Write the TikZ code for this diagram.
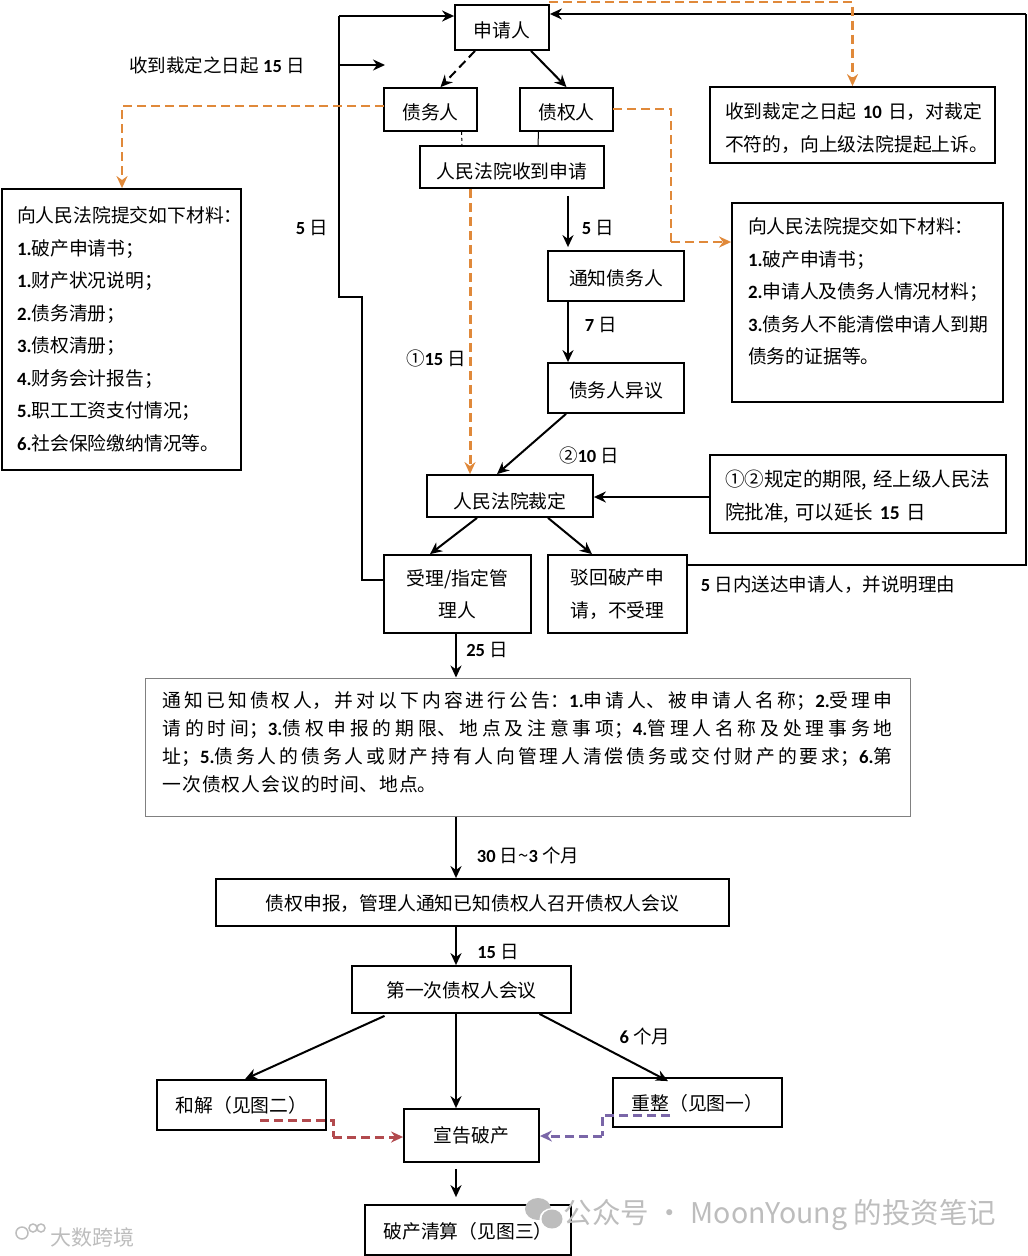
\documentclass[tikz,border=0pt]{standalone}
\usepackage{fontspec}
\usetikzlibrary{arrows.meta}
\setmainfont{Noto Sans CJK SC}
\newfontfamily\numfont{Carlito}
\newcommand{\nm}[1]{{\numfont\bfseries #1}}
\XeTeXlinebreaklocale "zh"
\XeTeXlinebreakskip=0pt plus 6pt
\definecolor{dashorange}{HTML}{E0893A}
\definecolor{dashred}{HTML}{B24A4E}
\definecolor{dashpurple}{HTML}{7A66A8}
\definecolor{markgray}{HTML}{BDBDBD}
\tikzset{
  box/.style={draw, line width=1.8pt, inner sep=0pt, align=left,
    font=\fontsize{18.8}{32.5}\selectfont, execute at begin node={\rule{0pt}{#1}}},
  box/.default=22pt,
  lab/.style={inner sep=0pt, font=\fontsize{18.5}{22}\selectfont},
  rule/.style={line width=2pt},
  flow/.style={line width=2pt, ->},
  ornline/.style={line width=2.2pt, color=dashorange, dash pattern=on 9pt off 5pt},
  wmark/.style={inner sep=0pt, text=markgray},
}
\begin{document}
\begin{tikzpicture}[>={Stealth[length=12pt,width=11pt]}, x=1pt, y=-1pt]
\useasboundingbox (0,0) rectangle (1028,1256);

\node[box, minimum width=94, minimum height=45] (sqr) at (502,27.5) {申请人};
\node[box, minimum width=93, minimum height=43] (zwr) at (430.5,109.5) {债务人};
\node[box, minimum width=93, minimum height=43] (zqr) at (566.5,109.5) {债权人};
\node[box=24pt, minimum width=184, minimum height=42] (shou) at (512,167) {人民法院收到申请};
\node[box=20pt, minimum width=136, minimum height=50] (tongzhi) at (616,276) {通知债务人};
\node[box=20pt, minimum width=136, minimum height=50] (yiyi) at (616,388) {债务人异议};
\node[box=27pt, minimum width=166, minimum height=42] (caiding) at (510,496) {人民法院裁定};
\node[box, align=center, minimum width=147, minimum height=78] (shouli) at (457.5,594) {受理/指定管\\理人};
\node[box, align=center, minimum width=139, minimum height=78] (bohui) at (617.5,594) {驳回破产申\\请，不受理};
\node[box, text width=255pt, minimum width=285, minimum height=76] (shangsu) at (852.5,125)
  {\mbox{收到裁定之日起 \nm{10} 日，对裁定}\\\mbox{不符的，向上级法院提起上诉。}};
\node[box=0pt, text width=209pt, minimum width=239, minimum height=281] (zwcl) at (121.5,329.5)
  {\mbox{向人民法院提交如下材料：}\\\nm{1.}破产申请书；\\\nm{1.}财产状况说明；\\\nm{2.}债务清册；\\\nm{3.}债权清册；\\\nm{4.}财务会计报告；\\\nm{5.}职工工资支付情况；\\\mbox{\nm{6.}社会保险缴纳情况等。}};
\node[box=0pt, text width=239pt, minimum width=271, minimum height=199] (zqcl) at (867.5,302.5)
  {\mbox{向人民法院提交如下材料：}\\\nm{1.}破产申请书；\\\mbox{\nm{2.}申请人及债务人情况材料；}\\\mbox{\nm{3.}债务人不能清偿申请人到期}\\债务的证据等。\rule[-23pt]{0pt}{1pt}};
\node[box, text width=266pt, minimum width=296, minimum height=78, font=\fontsize{19.5}{32.5}\selectfont] (yanchang) at (858,494)
  {\mbox{①②规定的期限, 经上级人民法}\\\mbox{院批准, 可以延长 \nm{15} 日}};
\node[draw=black!50, line width=1pt, inner xsep=17.5pt, inner ysep=8pt, text width=730pt, minimum height=138,
  align=justify, font=\fontsize{18.8}{28}\selectfont] (gonggao) at (527.5,747)
  {通知已知债权人，并对以下内容进行公告：\nm{1.}申请人、被申请人名称；\nm{2.}受理申\linebreak
   请的时间；\nm{3.}债权申报的期限、地点及注意事项；\nm{4.}管理人名称及处理事务地\linebreak
   址；\nm{5.}债务人的债务人或财产持有人向管理人清偿债务或交付财产的要求；\nm{6.}第\linebreak
   {\XeTeXlinebreakskip=1pt 一次债权人会议的时间、地点。}\rule[-10pt]{0pt}{1pt}};
\node[box=18pt, minimum width=513, minimum height=47] (shenbao) at (472.5,902.5) {债权申报，管理人通知已知债权人召开债权人会议};
\node[box=18pt, minimum width=219, minimum height=47] (huiyi) at (461.5,989.5) {第一次债权人会议};
\node[box=0pt, minimum width=169, minimum height=50] (hejie) at (241.5,1105) {和解（见图二）};
\node[box=0pt, minimum width=135, minimum height=53] (xuangao) at (471.5,1135.5) {宣告破产};
\node[box=18pt, minimum width=169, minimum height=49] (chongzheng) at (697.5,1102.5) {重整（见图一）};
\node[box=18pt, minimum width=206, minimum height=50] (qingsuan) at (468,1230) {破产清算（见图三）};

\node[lab] (l15) at (217,65) {收到裁定之日起 \nm{15} 日};
\node[lab] (l5a) at (312,228) {\nm{5} 日};
\node[lab] (l5b) at (598,228) {\nm{5} 日};
\node[lab] (l7) at (601,325) {\nm{7} 日};
\node[lab] (lone) at (436,358) {①\nm{15} 日};
\node[lab] (ltwo) at (589,455) {②\nm{10} 日};
\node[lab] (lsong) at (828,585) {\nm{5} 日内送达申请人，并说明理由};
\node[lab] (l25) at (487,650) {\nm{25} 日};
\node[lab] (l30) at (528,855) {\nm{30} 日\textasciitilde\nm{3} 个月};
\node[lab] (l15b) at (498,952) {\nm{15} 日};
\node[lab] (l6) at (645,1036) {\nm{6} 个月};

\coordinate (loopa) at (362,297);
\coordinate (loopb) at (339,297);
\coordinate (loopc) at (339,16);
\coordinate (branch) at (339,65);
\coordinate (branchend) at (385,65);
\coordinate (backa) at (1026,565);
\coordinate (backb) at (1026,14);

\draw[rule] ([yshift=14pt]shouli.west) -| (loopa) -- (loopb) -- (loopc);
\draw[flow] (loopc) -- (loopc -| sqr.west);
\draw[flow] (branch) -- (branchend);
\draw[rule] ([yshift=29pt]bohui.east) -- (backa) -- (backb);
\draw[flow] (backb) -- (backb -| sqr.east);

\draw[flow, dash pattern=on 9pt off 5pt] ([xshift=-27pt]sqr.south) -- ([xshift=10pt]zwr.north);
\draw[flow] ([xshift=29pt]sqr.south) -- (zqr.north);
\draw[rule, line width=1pt, dashed] ([xshift=31pt]zwr.south) -- ([xshift=-50pt]shou.north);
\draw[rule, line width=1pt] ([xshift=-28pt]zqr.south) -- ([xshift=26pt]shou.north);
\draw[flow] ([xshift=56pt,yshift=-7pt]shou.south) -- ([xshift=-48pt,yshift=3pt]tongzhi.north);
\draw[flow] ([xshift=-48pt]tongzhi.south) -- ([xshift=-48pt]yiyi.north);
\draw[flow] ([xshift=-50pt]yiyi.south) -- ([xshift=-13pt]caiding.north);
\draw[flow] ([yshift=-3pt]yanchang.west) -- ([yshift=-1pt]caiding.east);
\draw[flow] ([xshift=-33pt]caiding.south) -- ([xshift=-27.5pt]shouli.north);
\draw[flow] ([xshift=38pt]caiding.south) -- ([xshift=-25.5pt]bohui.north);
\draw[flow] ([xshift=-1.5pt]shouli.south) -- ([xshift=-71.5pt]gonggao.north);
\draw[flow] ([xshift=-71.5pt]gonggao.south) -- ([xshift=-16.5pt]shenbao.north);
\draw[flow] ([xshift=-16.5pt]shenbao.south) -- ([xshift=-5.5pt]huiyi.north);
\draw[flow] ([xshift=-77pt,yshift=-2pt]huiyi.south) -- ([xshift=3.5pt]hejie.north);
\draw[flow] ([xshift=-5.5pt]huiyi.south) -- ([xshift=-15.5pt]xuangao.north);
\draw[flow] ([xshift=78pt]huiyi.south) -- ([xshift=-29.5pt,yshift=-4pt]chongzheng.north);
\draw[flow] ([xshift=-15.5pt,yshift=-6pt]xuangao.south) -- ([xshift=-12pt,yshift=7pt]qingsuan.north);

\coordinate (ortop) at (549,2);
\coordinate (ora) at (384,106);
\coordinate (orb) at (613,109);
\coordinate (orc) at (671,242);
\draw[ornline, ->] (ortop) -| (shangsu.north);
\draw[ornline, ->] (ora) -| ([xshift=.5pt]zwcl.north);
\draw[ornline] (orb) -| (orc);
\draw[ornline, ->] (orc) -- (orc -| zqcl.west);
\draw[ornline, line width=3pt, ->] ([xshift=-42pt]shou.south) -- ([xshift=-40pt]caiding.north);

\coordinate (reda) at (260,1120);
\coordinate (redb) at (333,1120);
\coordinate (redc) at (333,1137);
\coordinate (pura) at (670,1115);
\coordinate (purb) at (602,1115);
\coordinate (purc) at (602,1136);
\draw[dashred, line width=3pt, dash pattern=on 9pt off 5pt] (reda) -- (redb) -- (redc);
\draw[dashred, line width=3pt, dash pattern=on 9pt off 5pt, ->] (redc) -- (redc -| xuangao.west);
\draw[dashpurple, line width=3pt, dash pattern=on 9pt off 5pt] (pura) -- (purb) -- (purc);
\draw[dashpurple, line width=3pt, dash pattern=on 9pt off 5pt, ->] (purc) -- (purc -| xuangao.east);

% watermark
\fill[markgray] (538,1209) ellipse (13 and 11);
\fill[white] (552,1219) ellipse (12.5 and 11);
\fill[markgray] (552,1219) ellipse (10.5 and 9.5);
\node[wmark, font=\fontsize{28.5}{30}\selectfont] (wm) at (780,1215) {公众号 · MoonYoung 的投资笔记};
\node[wmark, font=\fontsize{21}{24}\selectfont] (wmb) at (92,1237) {大数跨境};
\draw[markgray, line width=1.5pt] (22,1233) circle (6) (33,1228) circle (4) (41,1228) circle (4);
\end{tikzpicture}
\end{document}
